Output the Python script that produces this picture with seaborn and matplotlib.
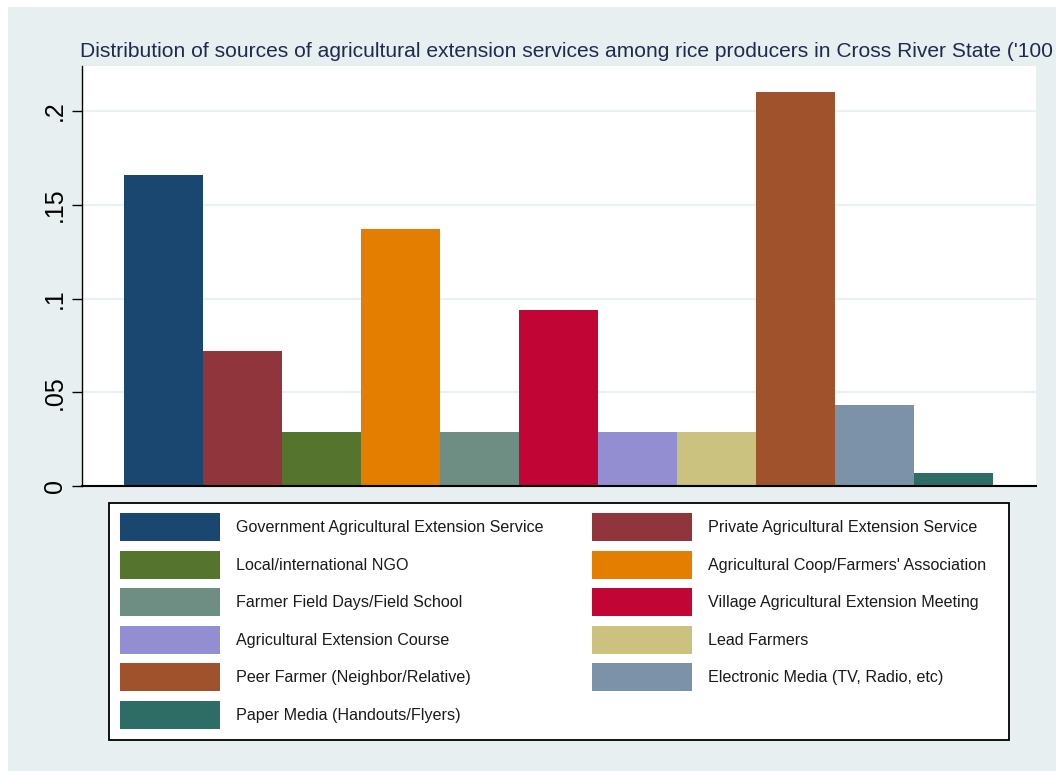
import matplotlib
matplotlib.use("Agg")
import matplotlib.pyplot as plt
from matplotlib.patches import Rectangle, Patch
import seaborn as sns
import pandas as pd

# Share of rice producers citing each source of agricultural extension services
sources = [
    "Government Agricultural Extension Service",
    "Private Agricultural Extension Service",
    "Local/international NGO",
    "Agricultural Coop/Farmers' Association",
    "Farmer Field Days/Field School",
    "Village Agricultural Extension Meeting",
    "Agricultural Extension Course",
    "Lead Farmers",
    "Peer Farmer (Neighbor/Relative)",
    "Electronic Media (TV, Radio, etc)",
    "Paper Media (Handouts/Flyers)",
]
shares = [0.166, 0.072, 0.029, 0.137, 0.029, 0.094, 0.029, 0.029, 0.210, 0.043, 0.007]
colors = ["#1A476F", "#90353B", "#55752F", "#E37E00", "#6E8E84", "#C10534",
          "#938DD2", "#CAC27E", "#A0522D", "#7B92A8", "#2D6D66"]
yticks = [0, 0.05, 0.10, 0.15, 0.20]
ytick_labels = ["0", ".05", ".1", ".15", ".2"]
title = ("Distribution of sources of agricultural extension services among rice "
         "producers in Cross River State ('100")

df = pd.DataFrame({"source": sources, "share": shares})

sns.set_theme(style="white")
plt.rcParams["font.family"] = ["Liberation Sans", "DejaVu Sans"]

W, H = 1056, 771
fig = plt.figure(figsize=(W / 100, H / 100), dpi=100, facecolor="white")

def fx(px):
    return px / W

def fy(py):
    return 1 - py / H

# graph region background
fig.patches.append(Rectangle((fx(8), 0), 1 - fx(8), fy(7), transform=fig.transFigure,
                             facecolor="#E8EFF1", edgecolor="none", zorder=-10))

ax = fig.add_axes([fx(82), fy(486), fx(1036) - fx(82), (486 - 66) / H])
ax.set_facecolor("white")

sns.barplot(data=df, x="source", y="share", hue="source", palette=colors,
            order=sources, hue_order=sources, width=1.0, dodge=False,
            saturation=1, legend=False, ax=ax, edgecolor="none", linewidth=0)

ax.set_xlim(-1.03, 11.05)
ax.set_ylim(0, 0.224)
ax.set_yticks(yticks)
ax.set_yticklabels(ytick_labels, rotation=90, va="center", fontsize=18, color="black")
ax.set_xticks([])
ax.set_xlabel("")
ax.set_ylabel("")
ax.tick_params(axis="y", direction="out", length=7, width=1.0, color="black",
               left=True, pad=4)
ax.grid(axis="y", color="#EAF1F3", linewidth=1.6)
ax.set_axisbelow(True)
for s in ["top", "right"]:
    ax.spines[s].set_visible(False)
ax.spines["left"].set_color("black")
ax.spines["left"].set_linewidth(1.0)
ax.spines["bottom"].set_color("black")
ax.spines["bottom"].set_linewidth(1.5)

fig.text(fx(80), fy(57), title, fontsize=15.1, color="#1E2B4D",
         ha="left", va="baseline")

# legend box
fig.patches.append(Rectangle((fx(109), fy(740)), fx(1009) - fx(109), fy(503) - fy(740),
                             transform=fig.transFigure, facecolor="white",
                             edgecolor="black", linewidth=1.3, zorder=1))

# two-column legend filled row by row
order = list(range(0, len(sources), 2)) + list(range(1, len(sources), 2))
handles = [Patch(facecolor=colors[i], edgecolor="none") for i in order]
labels = [sources[i] for i in order]
leg = fig.legend(handles, labels, loc="upper left",
                 bbox_to_anchor=(fx(120), fy(513)), bbox_transform=fig.transFigure,
                 ncol=2, frameon=False, fontsize=11.6, borderpad=0, borderaxespad=0,
                 handlelength=6.2, handleheight=2.3, handletextpad=1.0,
                 labelspacing=0.59, columnspacing=3.0)
for t in leg.get_texts():
    t.set_color("#1a1a1a")
leg.set_zorder(2)

fig.savefig("out.png", dpi=100)
